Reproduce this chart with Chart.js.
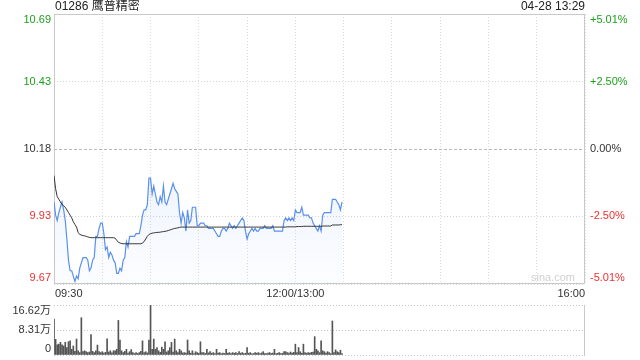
<!DOCTYPE html>
<html>
<head>
<meta charset="utf-8">
<script src="https://cdn.jsdelivr.net/npm/chart.js@4"></script>
<style>
  html, body { margin: 0; padding: 0; background: #fff; }
  #wrap { position: relative; width: 640px; height: 360px; }
  #price { position: absolute; left: 0; top: 0; }
  #vol { position: absolute; left: 0; top: 300px; }
</style>
</head>
<body>
<div id="wrap">
  <canvas id="price" width="640" height="300"></canvas>
  <canvas id="vol" width="640" height="60"></canvas>
</div>
<script>
const title = '01286 鹰普精密';
const stamp = '04-28 13:29';
const prevClose = 10.18;

// minute offsets from 09:30 (lunch break folded, 330 trading minutes)
const timeTicks = [0, 150, 330];
const timeLabels = ['09:30', '12:00/13:00', '16:00'];

const priceGrid = [9.67, 9.9255, 10.18, 10.4345, 10.69];
const priceLabels = ['9.67', '9.93', '10.18', '10.43', '10.69'];
const pctLabels = ['-5.01%', '-2.50%', '0.00%', '+2.50%', '+5.01%'];

const volGrid = [0, 8.31, 16.62];
const volLabels = ['0', '8.31万', '16.62万'];

// one value per minute, 09:30 .. 13:29
const prices = [
  9.98, 9.93, 9.91, 9.94, 9.96, 9.98, 9.95, 9.91, 9.84, 9.76,
  9.72, 9.72, 9.70, 9.68, 9.70, 9.69, 9.73, 9.75, 9.77, 9.77,
  9.77, 9.76, 9.72, 9.73, 9.76, 9.77, 9.85, 9.85, 9.88, 9.90,
  9.90, 9.86, 9.80, 9.81, 9.77, 9.79, 9.78, 9.76, 9.75, 9.71,
  9.71, 9.73, 9.72, 9.76, 9.77, 9.83, 9.81, 9.85, 9.85, 9.85,
  9.85, 9.86, 9.86, 9.86, 9.89, 9.93, 9.95, 9.95, 9.97, 10.07,
  10.07, 10.01, 10.04, 10.01, 9.98, 9.97, 10.00, 9.98, 10.04, 9.98,
  9.97, 9.99, 10.01, 10.03, 10.05, 10.03, 10.02, 10.01, 9.94, 9.90,
  9.94, 9.92, 9.87, 9.95, 9.90, 9.91, 9.96, 9.96, 9.96, 9.89,
  9.89, 9.90, 9.90, 9.90, 9.89, 9.89, 9.88, 9.88, 9.88, 9.88,
  9.87, 9.86, 9.85, 9.85, 9.87, 9.88, 9.88, 9.87, 9.88, 9.90,
  9.89, 9.88, 9.89, 9.88, 9.89, 9.90, 9.91, 9.92, 9.91, 9.87,
  9.84, 9.86, 9.87, 9.88, 9.87, 9.88, 9.87, 9.87, 9.88, 9.88,
  9.88, 9.89, 9.88, 9.88, 9.88, 9.88, 9.89, 9.87, 9.87, 9.87,
  9.87, 9.87, 9.87, 9.91, 9.92, 9.91, 9.92, 9.91, 9.92, 9.91,
  9.95, 9.94, 9.94, 9.94, 9.96, 9.93, 9.93, 9.93, 9.93, 9.92,
  9.92, 9.90, 9.89, 9.88, 9.87, 9.89, 9.87, 9.93, 9.94, 9.94,
  9.94, 9.94, 9.94, 9.99, 9.99, 9.99, 9.98, 9.97, 9.95, 9.98
];

const avgPrices = [
  10.08, 10.03, 10.00, 9.99, 9.98, 9.97, 9.965, 9.96, 9.95, 9.94,
  9.93, 9.92, 9.905, 9.895, 9.885, 9.865, 9.857, 9.855, 9.853, 9.852,
  9.85, 9.848, 9.846, 9.845, 9.845, 9.845, 9.845, 9.845, 9.845, 9.845,
  9.845, 9.845, 9.845, 9.845, 9.845, 9.845, 9.845, 9.845, 9.843, 9.835,
  9.828, 9.825, 9.823, 9.822, 9.822, 9.822, 9.822, 9.822, 9.822, 9.822,
  9.822, 9.822, 9.822, 9.822, 9.822, 9.825, 9.83, 9.84, 9.85, 9.857,
  9.86, 9.862, 9.863, 9.864, 9.865, 9.865, 9.866, 9.867, 9.868, 9.869,
  9.87, 9.872, 9.874, 9.876, 9.878, 9.88, 9.881, 9.882, 9.884, 9.885,
  9.885, 9.885, 9.885, 9.885, 9.885, 9.885, 9.885, 9.885, 9.885, 9.885,
  9.885, 9.885, 9.885, 9.885, 9.885, 9.885, 9.885, 9.885, 9.885, 9.885,
  9.885, 9.885, 9.885, 9.885, 9.885, 9.885, 9.885, 9.885, 9.885, 9.885,
  9.885, 9.885, 9.885, 9.885, 9.885, 9.885, 9.885, 9.885, 9.885, 9.885,
  9.885, 9.885, 9.885, 9.885, 9.885, 9.885, 9.885, 9.885, 9.885, 9.885,
  9.885, 9.885, 9.885, 9.885, 9.885, 9.885, 9.885, 9.885, 9.885, 9.885,
  9.885, 9.885, 9.885, 9.885, 9.885, 9.886, 9.886, 9.886, 9.886, 9.886,
  9.886, 9.887, 9.887, 9.887, 9.887, 9.888, 9.888, 9.888, 9.888, 9.888,
  9.888, 9.888, 9.888, 9.888, 9.888, 9.888, 9.888, 9.889, 9.889, 9.889,
  9.889, 9.889, 9.889, 9.893, 9.893, 9.893, 9.893, 9.893, 9.894, 9.894
];

// volume per minute, in 万 shares
const volumes = [
  11.9, 5.2, 3.4, 3.6, 4.2, 3.4, 3.0, 4.2, 2.5, 4.4,
  4.7, 1.9, 3.0, 1.2, 5.3, 1.4, 0.8, 12.4, 1.1, 1.4,
  1.1, 0.8, 1.0, 6.8, 1.2, 0.8, 1.4, 3.3, 1.1, 0.8,
  1.1, 0.6, 0.9, 5.4, 1.0, 1.4, 0.7, 1.4, 1.4, 1.9,
  11.5, 5.0, 1.4, 0.8, 1.2, 1.9, 0.6, 1.1, 1.8, 0.8,
  0.5, 0.8, 0.5, 0.8, 1.2, 4.7, 0.8, 1.1, 0.7, 5.0,
  16.62, 1.9, 5.3, 1.9, 2.5, 1.4, 0.9, 2.6, 1.9, 4.4,
  1.0, 1.4, 2.5, 4.2, 1.0, 5.3, 1.4, 0.8, 1.9, 1.4,
  0.7, 0.8, 0.6, 5.0, 1.4, 0.6, 1.4, 0.5, 1.1, 0.8,
  0.6, 4.4, 0.8, 0.8, 0.5, 1.9, 0.7, 1.1, 0.6, 0.8,
  0.5, 1.9, 0.6, 0.8, 0.45, 0.6, 0.5, 1.9, 0.6, 0.8,
  0.5, 0.8, 0.6, 0.8, 0.5, 1.1, 0.6, 0.8, 0.5, 0.6,
  2.5, 0.6, 0.8, 0.4, 0.5, 0.8, 0.6, 0.8, 0.5, 0.7,
  1.1, 0.5, 0.45, 0.6, 0.8, 0.5, 0.6, 1.9, 0.5, 0.6,
  0.8, 0.5, 0.6, 1.1, 1.1, 0.8, 0.6, 1.0, 0.6, 0.9,
  3.6, 0.8, 2.5, 1.1, 0.6, 3.6, 0.8, 0.6, 0.8, 0.6,
  0.9, 1.0, 6.1, 1.9, 1.4, 0.8, 4.7, 1.4, 1.1, 0.6,
  1.1, 0.8, 0.45, 11.3, 0.8, 1.7, 1.1, 0.8, 1.6, 0.5
];

const FONT = '11px "Liberation Sans", Arial, "Noto Sans CJK SC", sans-serif';
const TITLE_FONT = '12px "Liberation Sans", Arial, "Noto Sans CJK SC", sans-serif';
const UP = '#1d9f1d', DOWN = '#f03030', FLAT = '#333';

function levelColor(v) {
  if (Math.abs(v - prevClose) < 1e-6) return FLAT;
  return v > prevClose ? UP : DOWN;
}

const xy = (arr) => arr.map((v, i) => ({ x: i, y: v }));

const priceFrame = {
  id: 'priceFrame',
  beforeDatasetsDraw(chart) {
    const { ctx, chartArea: a } = chart;
    ctx.save();
    ctx.strokeStyle = '#c9c9c9';
    ctx.lineWidth = 1;
    ctx.strokeRect(a.left + 0.5, a.top + 0.5, a.right - a.left - 1, a.bottom - a.top - 1);
    ctx.font = FONT;
    ctx.fillStyle = '#d0d0d0';
    ctx.textAlign = 'right';
    ctx.textBaseline = 'middle';
    ctx.fillText('sina.com', a.right - 10, a.bottom - 6);
    ctx.restore();
  },
  afterDraw(chart) {
    const { ctx, chartArea: a, scales: { x, y } } = chart;
    ctx.save();
    ctx.textBaseline = 'middle';
    // header
    ctx.font = TITLE_FONT;
    ctx.fillStyle = '#222';
    ctx.textAlign = 'left';
    ctx.fillText(title, a.left + 1, 7);
    ctx.textAlign = 'right';
    ctx.fillText(stamp, a.right, 7);
    // price / percent labels
    ctx.font = FONT;
    priceGrid.forEach((v, i) => {
      let py = y.getPixelForValue(v);
      py = Math.min(Math.max(py, a.top + 6), a.bottom - 6);
      ctx.fillStyle = levelColor(v);
      ctx.textAlign = 'right';
      ctx.fillText(priceLabels[i], a.left - 3, py);
      ctx.textAlign = 'left';
      ctx.fillText(pctLabels[i], a.right + 5, py);
    });
    // time labels
    ctx.fillStyle = FLAT;
    timeTicks.forEach((t, i) => {
      const px = x.getPixelForValue(t);
      ctx.textAlign = i === 0 ? 'left' : (i === timeTicks.length - 1 ? 'right' : 'center');
      ctx.fillText(timeLabels[i], px + (i === 0 ? 1 : 0), a.bottom + 10);
    });
    ctx.restore();
  }
};

new Chart(document.getElementById('price'), {
  type: 'line',
  data: {
    datasets: [
      {
        data: xy(avgPrices),
        borderColor: '#333',
        borderWidth: 1,
        pointRadius: 0,
        fill: false,
      },
      {
        data: xy(prices),
        borderColor: '#5a90ee',
        borderWidth: 1.2,
        pointRadius: 0,
        fill: 'start',
        backgroundColor: (c) => {
          const a = c.chart.chartArea;
          if (!a) return 'rgba(90,144,238,0.1)';
          const g = c.chart.ctx.createLinearGradient(0, a.top, 0, a.bottom);
          g.addColorStop(0, 'rgba(90,144,238,0.22)');
          g.addColorStop(1, 'rgba(90,144,238,0.02)');
          return g;
        },
      },
    ],
  },
  options: {
    responsive: false,
    animation: false,
    events: [],
    layout: { padding: { left: 54, right: 55, top: 14, bottom: 16 } },
    scales: {
      x: {
        type: 'linear',
        min: 0,
        max: 330,
        afterFit: (s) => { s.height = 0; },
        ticks: { display: false, stepSize: 30 },
        grid: { color: '#dcdcdc', drawTicks: false },
        border: { display: false, dash: [1, 2] },
      },
      y: {
        min: priceGrid[0],
        max: priceGrid[priceGrid.length - 1],
        afterFit: (s) => { s.width = 0; },
        afterBuildTicks: (s) => { s.ticks = priceGrid.map((v) => ({ value: v })); },
        ticks: { display: false },
        grid: {
          drawTicks: false,
          color: (c) => (c.tick && Math.abs(c.tick.value - prevClose) < 1e-6 ? '#b8b8b8' : '#d4d4d4'),
        },
        border: {
          display: false,
          dash: (c) => (c.tick && Math.abs(c.tick.value - prevClose) < 1e-6 ? [3, 2] : [1, 2]),
        },
      },
    },
    plugins: { legend: { display: false }, tooltip: { enabled: false } },
  },
  plugins: [priceFrame],
});

const volFrame = {
  id: 'volFrame',
  beforeDatasetsDraw(chart) {
    const { ctx, chartArea: a } = chart;
    ctx.save();
    ctx.strokeStyle = '#c9c9c9';
    ctx.lineWidth = 1;
    ctx.beginPath();
    ctx.moveTo(a.right - 0.5, a.top);
    ctx.lineTo(a.right - 0.5, a.bottom + 1);
    ctx.stroke();
    ctx.restore();
  },
  afterDraw(chart) {
    const { ctx, chartArea: a, scales: { y } } = chart;
    ctx.save();
    ctx.font = FONT;
    ctx.fillStyle = FLAT;
    ctx.textAlign = 'right';
    ctx.textBaseline = 'middle';
    volGrid.forEach((v, i) => {
      let py = y.getPixelForValue(v);
      py = Math.min(Math.max(py, a.top + 6), a.bottom - 6);
      ctx.fillText(volLabels[i], a.left - 3, py);
    });
    ctx.restore();
  }
};

new Chart(document.getElementById('vol'), {
  type: 'bar',
  data: {
    datasets: [{
      data: xy(volumes),
      backgroundColor: '#555',
      barThickness: 1,
    }],
  },
  options: {
    responsive: false,
    animation: false,
    events: [],
    layout: { padding: { left: 54, right: 55, top: 5, bottom: 5 } },
    scales: {
      x: {
        type: 'linear',
        min: 0,
        max: 330,
        offset: false,
        afterFit: (s) => { s.height = 0; },
        ticks: { display: false },
        grid: { display: false },
        border: { display: false },
      },
      y: {
        min: 0,
        max: volGrid[volGrid.length - 1],
        afterFit: (s) => { s.width = 0; },
        afterBuildTicks: (s) => { s.ticks = volGrid.map((v) => ({ value: v })); },
        ticks: { display: false },
        grid: { color: '#c8c8c8', drawTicks: false },
        border: { display: false, dash: [1, 2] },
      },
    },
    plugins: { legend: { display: false }, tooltip: { enabled: false } },
  },
  plugins: [volFrame],
});
</script>
</body>
</html>
